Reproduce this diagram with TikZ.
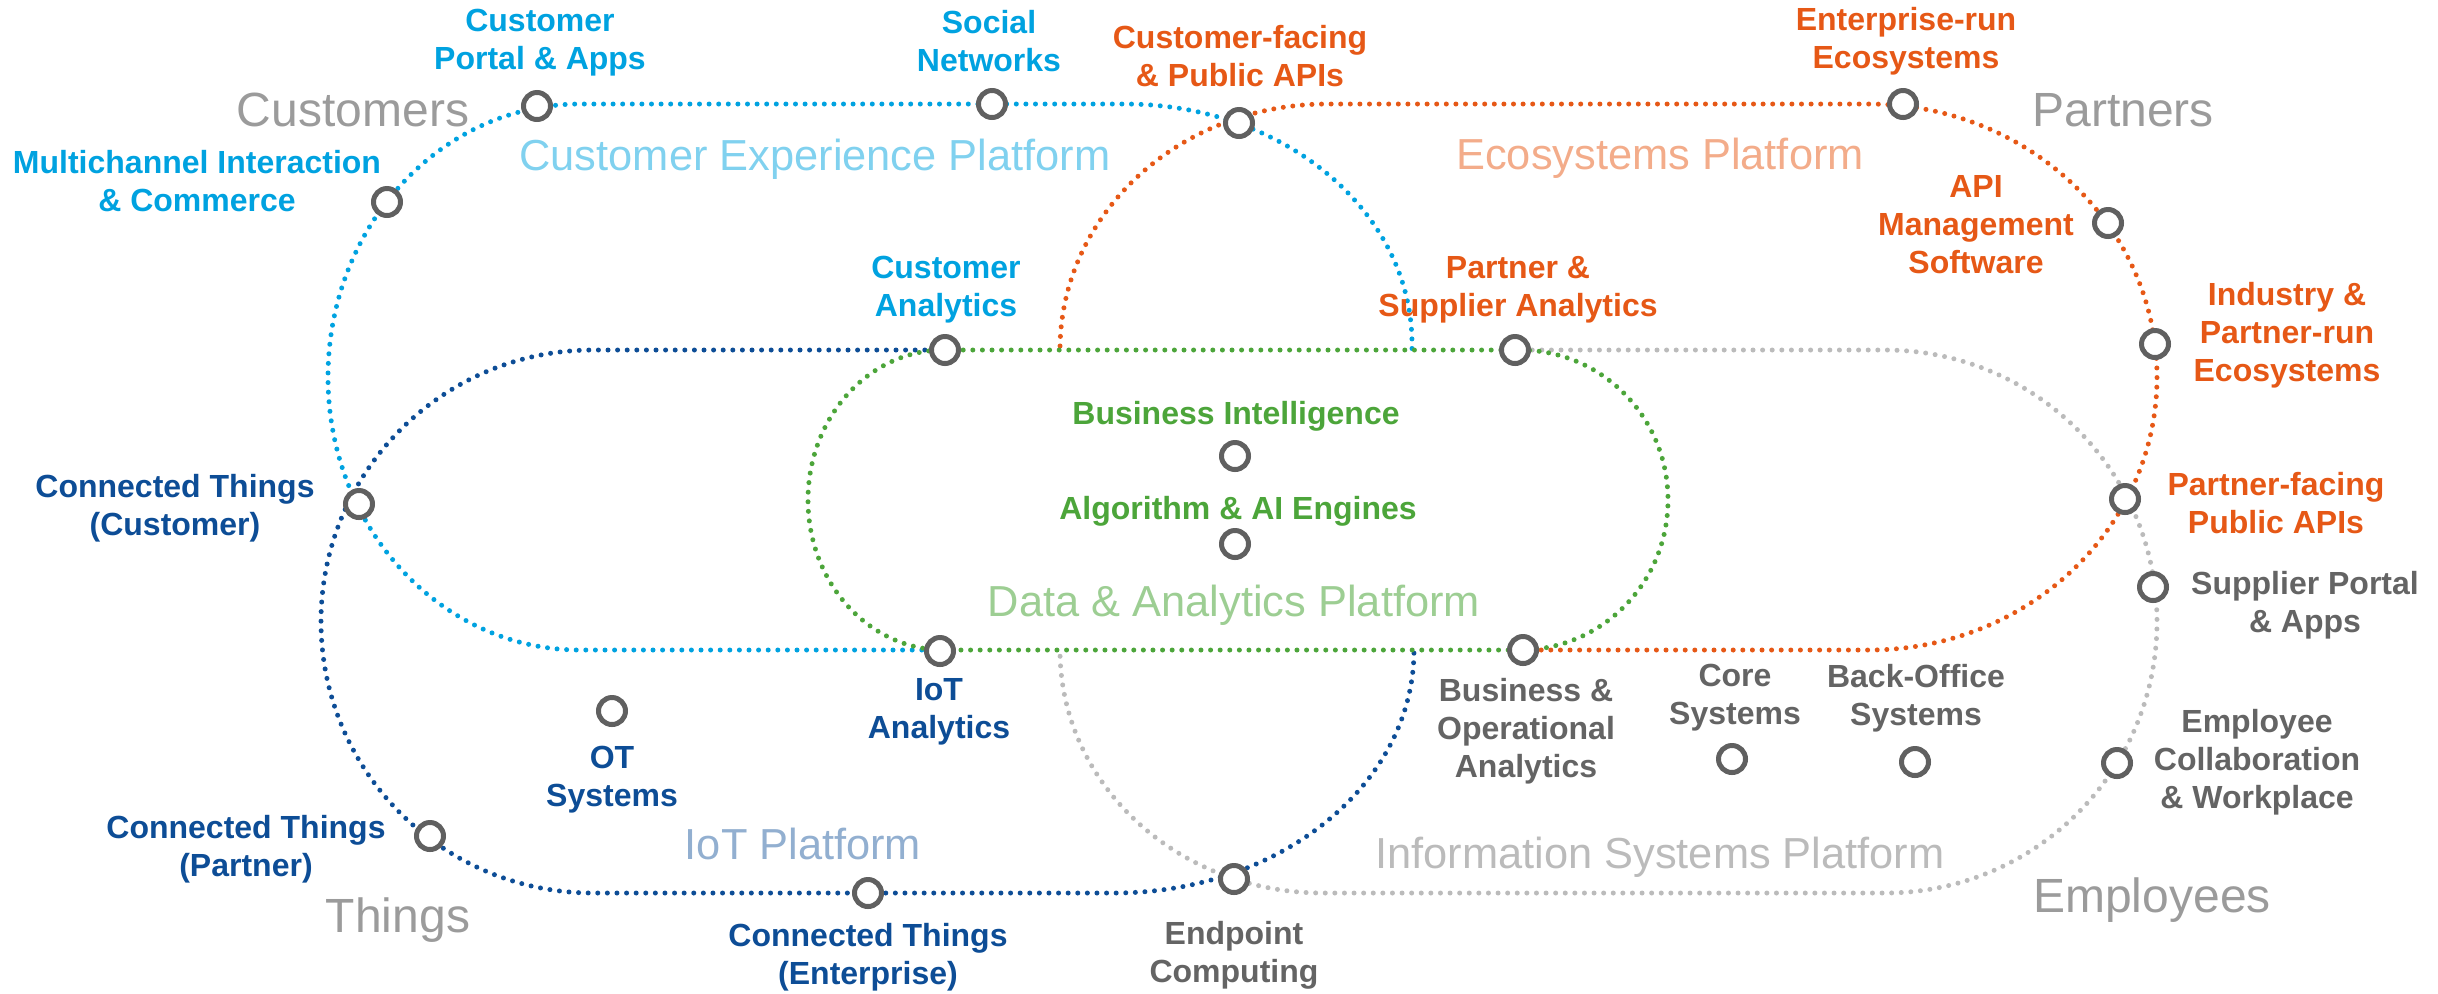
\documentclass[tikz,border=0pt]{standalone}
\usepackage{fontspec}
\setmainfont{Liberation Sans}
\definecolor{cxblue}{RGB}{0,162,224}
\definecolor{iotblue}{RGB}{13,77,150}
\definecolor{dagreen}{RGB}{76,165,58}
\definecolor{ecoorange}{RGB}{230,88,22}
\definecolor{isgray}{RGB}{187,187,187}
\definecolor{txtgray}{RGB}{100,100,100}
\definecolor{ringgray}{RGB}{96,96,96}
\definecolor{bandgray}{RGB}{155,155,155}
\tikzset{
  track/.style={line width=2.5pt, line cap=round, dash pattern=on 0pt off 4.8pt},
  ring/.style={circle, draw=ringgray, line width=2.5pt, fill=white,
               minimum size=13.5pt, inner sep=0pt},
  lbl/.style={font=\bfseries\fontsize{16}{19}\selectfont, align=center, inner sep=0pt},
  band/.style={font=\fontsize{24}{28}\selectfont, text=bandgray, inner sep=0pt},
  platform/.style={font=\fontsize{21.7}{26}\selectfont, inner sep=0pt}
}
\begin{document}
\begin{tikzpicture}[x=0.5pt,y=-0.5pt]
\useasboundingbox (0,0) rectangle (2438,993);
% information systems
\draw[track,isgray] (1513,350) -- (1885,350)
  arc[start angle=270,end angle=450,x radius=272,y radius=271.5]
  -- (1323,893) arc[start angle=90,end angle=180,x radius=263,y radius=243]
  -- (1060,650);
% ecosystems
\draw[track,ecoorange] (1522,650) -- (1869,650)
  arc[start angle=90,end angle=-90,x radius=288,y radius=273]
  -- (1327,104) arc[start angle=270,end angle=180,x radius=267,y radius=246]
  -- (1060,350);
% customer experience
\draw[track,cxblue] (941,650) -- (580,650)
  arc[start angle=90,end angle=270,x radius=252,y radius=273]
  -- (1125,104) arc[start angle=270,end angle=360,x radius=287,y radius=240]
  -- (1412,350);
% iot
\draw[track,iotblue] (944,350) -- (593,350)
  arc[start angle=270,end angle=90,x radius=272,y radius=271.5]
  -- (1114,893) arc[start angle=90,end angle=0,x radius=300,y radius=243]
  -- (1414,650);
% data & analytics
\draw[track,dagreen] (944,350) -- (1520,350)
  arc[start angle=270,end angle=450,x radius=148,y radius=150]
  -- (944,650) arc[start angle=90,end angle=270,x radius=136,y radius=150]
  -- cycle;

% stops
\node[ring] (cpa) at (537,106) {};
\node[ring] (soc) at (992,104) {};
\node[ring] (cfp) at (1239,123) {};
\node[ring] (ere) at (1903,104) {};
\node[ring] (mci) at (387,202) {};
\node[ring] (apim) at (2108,223) {};
\node[ring] (cana) at (945,350) {};
\node[ring] (psa) at (1515,350) {};
\node[ring] (ipe) at (2155,344) {};
\node[ring] (bi) at (1235,456) {};
\node[ring] (ctc) at (359,504) {};
\node[ring] (pfp) at (2125,499) {};
\node[ring] (aie) at (1235,544) {};
\node[ring] (spa) at (2153,587) {};
\node[ring] (iota) at (940,651) {};
\node[ring] (boa) at (1523,650) {};
\node[ring] (ots) at (612,711) {};
\node[ring] (core) at (1732,759) {};
\node[ring] (bos) at (1915,762) {};
\node[ring] (ecw) at (2117,763) {};
\node[ring] (ctp) at (430,836) {};
\node[ring] (cte) at (868,893) {};
\node[ring] (epc) at (1234,879) {};

% labels
\node[lbl,cxblue] (cpaL) at (540,43) {Customer\\Portal \& Apps};
\node[lbl,cxblue] (socL) at (989,41) {Social\\Networks};
\node[lbl,cxblue] (mciL) at (197,181) {Multichannel Interaction\\\& Commerce};
\node[lbl,cxblue] (canaL) at (946,290) {Customer\\Analytics};
\node[lbl,ecoorange] (cfpL) at (1240,56) {Customer-facing\\\& Public APIs};
\node[lbl,ecoorange] (ereL) at (1906,41) {Enterprise-run\\Ecosystems};
\node[lbl,ecoorange] (apimL) at (1976,225) {API\\Management\\Software};
\node[lbl,ecoorange] (psaL) at (1518,290) {Partner \&\\Supplier Analytics};
\node[lbl,ecoorange] (ipeL) at (2287,335) {Industry \&\\Partner-run\\Ecosystems};
\node[lbl,ecoorange] (pfpL) at (2276,503) {Partner-facing\\Public APIs};
\node[lbl,dagreen] (biL) at (1236,416) {Business Intelligence};
\node[lbl,dagreen] (aieL) at (1238,511) {Algorithm \& AI Engines};
\node[lbl,iotblue] (ctcL) at (175,508) {Connected Things\\(Customer)};
\node[lbl,iotblue] (iotaL) at (939,712) {IoT\\Analytics};
\node[lbl,iotblue] (otsL) at (612,780) {OT\\Systems};
\node[lbl,iotblue] (ctpL) at (246,849) {Connected Things\\(Partner)};
\node[lbl,iotblue] (cteL) at (868,957) {Connected Things\\(Enterprise)};
\node[lbl,txtgray] (spaL) at (2305,605) {Supplier Portal\\\& Apps};
\node[lbl,txtgray] (boaL) at (1526,731) {Business \&\\Operational\\Analytics};
\node[lbl,txtgray] (coreL) at (1735,698) {Core\\Systems};
\node[lbl,txtgray] (bosL) at (1916,698) {Back-Office\\Systems};
\node[lbl,txtgray] (ecwL) at (2257,762) {Employee\\Collaboration\\\& Workplace};
\node[lbl,txtgray] (epcL) at (1234,955) {Endpoint\\Computing};

% who
\node[band] (customers) at (353,110) {Customers};
\node[band] (partners) at (2123,110) {Partners};
\node[band] (things) at (398,920) {Things};
\node[band] (employees) at (2152,900) {Employees};

% platforms
\node[platform,text=cxblue!50] (cxp) at (815,159) {Customer Experience Platform};
\node[platform,text=ecoorange!50] (ecop) at (1660,158) {Ecosystems Platform};
\node[platform,text=dagreen!55] (dap) at (1234,605) {Data \& Analytics Platform};
\node[platform,text=iotblue!45] (iotp) at (803,844) {IoT Platform};
\node[platform,text=isgray] (isp) at (1660,857) {Information Systems Platform};
\end{tikzpicture}
\end{document}
